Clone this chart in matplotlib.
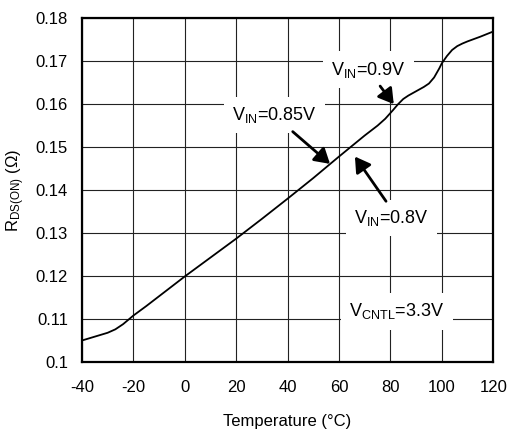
import matplotlib
matplotlib.use('Agg')
import matplotlib.pyplot as plt

plt.rcParams['font.family'] = ['Liberation Sans', 'DejaVu Sans']
plt.rcParams['mathtext.fontset'] = 'custom'
plt.rcParams['mathtext.rm'] = 'Liberation Sans'
plt.rcParams['mathtext.it'] = 'Liberation Sans'
plt.rcParams['axes.unicode_minus'] = False

# RDS(ON) vs temperature
temp = [-40, -35, -30, -27, -24, -20, -15, -10, 0, 10, 20, 30, 40, 50, 60, 70,
        75, 78, 81, 83, 85, 87, 90, 93, 95, 97, 99, 100, 102, 104, 106, 108,
        110, 115, 120]
rds = [0.1050, 0.1059, 0.1068, 0.1076, 0.1088, 0.1108, 0.1130, 0.1153, 0.1199,
       0.1243, 0.1287, 0.1333, 0.1380, 0.1428, 0.1478, 0.1527, 0.1550, 0.1566,
       0.1586, 0.1600, 0.1612, 0.1620, 0.1630, 0.1640, 0.1648, 0.1662, 0.1683,
       0.1695, 0.1712, 0.1726, 0.1735, 0.1741, 0.1746, 0.1757, 0.1769]

xticks = [-40, -20, 0, 20, 40, 60, 80, 100, 120]
yticks = [0.10, 0.11, 0.12, 0.13, 0.14, 0.15, 0.16, 0.17, 0.18]
ytick_labels = ['0.1', '0.11', '0.12', '0.13', '0.14', '0.15', '0.16', '0.17', '0.18']

# (label, text position, arrow tail, arrow head)
notes = [
    (r'V$_{\mathrm{IN}}$=0.9V', (71.5, 0.1680), (76.0, 0.1642), (81.3, 0.1600)),
    (r'V$_{\mathrm{IN}}$=0.85V', (35.0, 0.1575), (42.0, 0.1536), (56.5, 0.1461)),
    (r'V$_{\mathrm{IN}}$=0.8V', (80.5, 0.1335), (78.3, 0.1374), (66.2, 0.1478)),
]

fig = plt.figure(figsize=(5.09, 4.33), dpi=100)
ax = fig.add_axes([0.161, 0.164, 0.808, 0.794])

ax.plot(temp, rds, color='black', lw=1.3, zorder=3)

ax.set_xlim(-40, 120)
ax.set_ylim(0.10, 0.18)
ax.set_xticks(xticks)
ax.set_yticks(yticks)
ax.set_yticklabels(ytick_labels)
ax.grid(True, color='#222222', lw=0.8)
ax.set_axisbelow(True)
ax.tick_params(length=0, labelsize=12, pad=13)
ax.tick_params(axis='y', pad=10)
for s in ax.spines.values():
    s.set_linewidth(1.6)

ax.set_xlabel('Temperature (°C)', fontsize=12, labelpad=14)
ax.set_ylabel(r'R$_{\mathrm{DS(ON)}}$ ($\Omega$)', fontsize=12, labelpad=6)

box = dict(facecolor='white', edgecolor='none', pad=6)
for label, txt, tail, head in notes:
    ax.text(txt[0], txt[1], label, fontsize=13, ha='center', va='center',
            bbox=box, zorder=4)
    ax.annotate('', xy=head, xytext=tail,
                arrowprops=dict(arrowstyle='-|>,head_length=0.5,head_width=0.3',
                                color='black', lw=2, mutation_scale=18,
                                shrinkA=0, shrinkB=0),
                zorder=5)

ax.text(82.5, 0.1118, r'V$_{\mathrm{CNTL}}$=3.3V', fontsize=13, ha='center',
        va='center', bbox=box, zorder=4)

fig.savefig('out.png', dpi=100)
